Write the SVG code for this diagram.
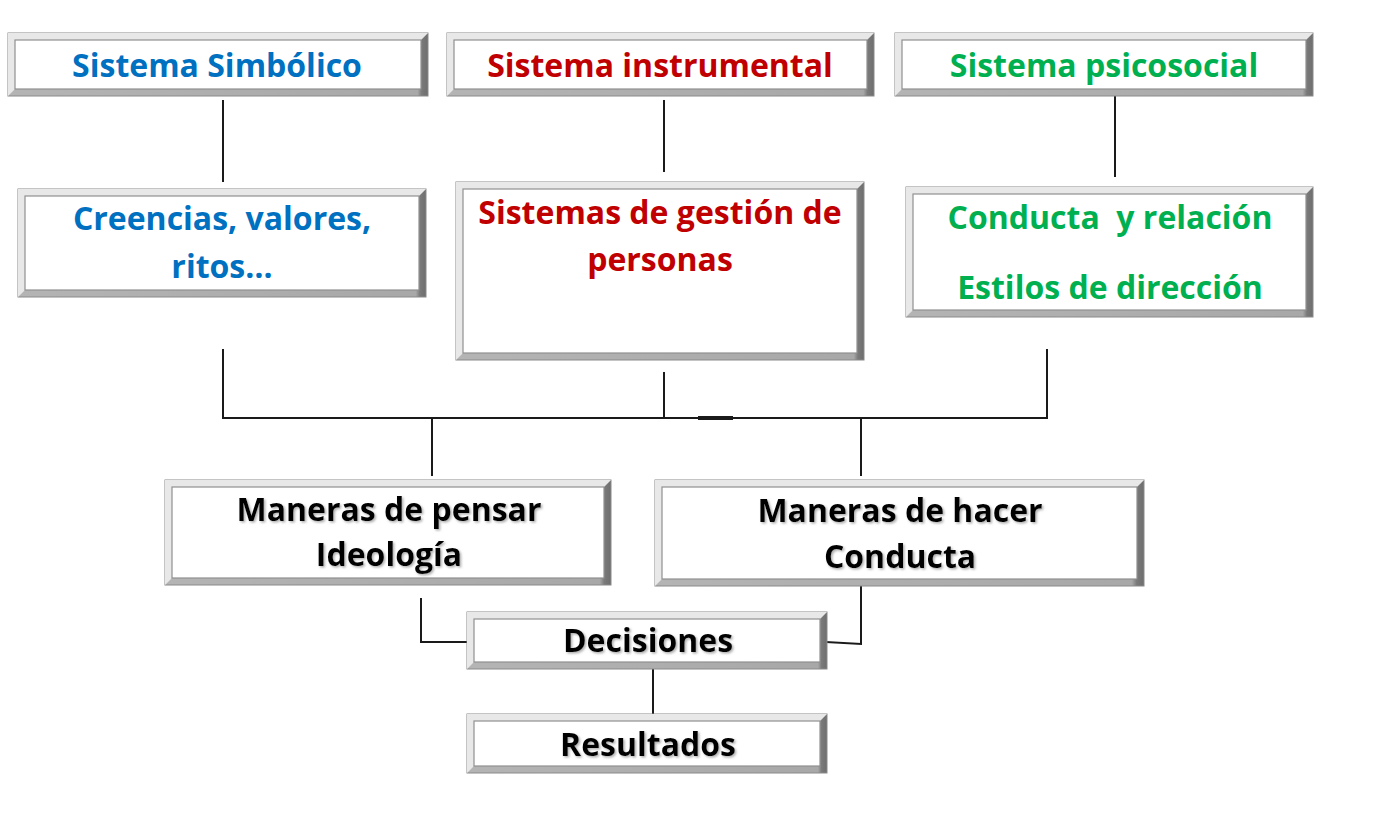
<svg xmlns="http://www.w3.org/2000/svg" width="1379" height="817" viewBox="0 0 1379 817">
<style>
.out{fill:url(#bev);stroke:#8a8a8a;stroke-width:1}
.hi{fill:#e8e8e8}
.in{fill:#ffffff;stroke:#909090;stroke-width:1.2}
text{font-family:"Open Sans","Noto Sans",sans-serif;font-weight:700;font-size:32px;text-anchor:middle}
.b{fill:#0070C0}.r{fill:#C00000}.g{fill:#00B050}.k{fill:#000000;filter:url(#sh)}
.c{fill:none;stroke:#1a1a1a;stroke-width:2}
</style>
<defs>
<linearGradient id="bev" x1="0" y1="0" x2="1" y2="0">
<stop offset="0" stop-color="#b4b4b4"/><stop offset="0.975" stop-color="#a8a8a8"/><stop offset="0.985" stop-color="#7a7a7a"/><stop offset="1" stop-color="#6e6e6e"/>
</linearGradient>
<filter id="sh" x="-10%" y="-20%" width="120%" height="150%"><feDropShadow dx="1.5" dy="1.5" stdDeviation="1" flood-color="#777" flood-opacity="0.6"/></filter>
</defs>
<rect width="1379" height="817" fill="#ffffff"/>
<g id="connectors">
<path class="c" d="M223 100V182M664 100V172M1115 95V177"/>
<path class="c" d="M223 349V418H1047V349M664 372V418M432 418V476M861 418V476"/>
<path d="M698 418H733" stroke="#1a1a1a" stroke-width="4"/>
<path class="c" d="M421 598V642H467M861 586V644L808 641M653 669V714"/>
</g>
<g id="n1"><rect class="out" x="8" y="33" width="420" height="63"/><polygon class="hi" points="8,33 428,33 421,40 15,40 15,89 8,96"/><rect class="in" x="15" y="40" width="406" height="49"/><text class="b" x="217" y="77">Sistema Simbólico</text></g>
<g id="n2"><rect class="out" x="447" y="33" width="427" height="63"/><polygon class="hi" points="447,33 874,33 867,40 454,40 454,89 447,96"/><rect class="in" x="454" y="40" width="413" height="49"/><text class="r" x="660" y="77">Sistema instrumental</text></g>
<g id="n3"><rect class="out" x="895" y="33" width="418" height="63"/><polygon class="hi" points="895,33 1313,33 1306,40 902,40 902,89 895,96"/><rect class="in" x="902" y="40" width="404" height="49"/><text class="g" x="1104" y="77">Sistema psicosocial</text></g>
<g id="n4"><rect class="out" x="18" y="189" width="408" height="108"/><polygon class="hi" points="18,189 426,189 419,196 25,196 25,290 18,297"/><rect class="in" x="25" y="196" width="394" height="94"/><text class="b" x="222" y="230">Creencias, valores,</text><text class="b" x="222" y="278">ritos…</text></g>
<g id="n5"><rect class="out" x="456" y="182" width="408" height="178"/><polygon class="hi" points="456,182 864,182 857,189 463,189 463,353 456,360"/><rect class="in" x="463" y="189" width="394" height="164"/><text class="r" x="660" y="224">Sistemas de gestión de</text><text class="r" x="660" y="271">personas</text></g>
<g id="n6"><rect class="out" x="906" y="187" width="407" height="130"/><polygon class="hi" points="906,187 1313,187 1306,194 913,194 913,310 906,317"/><rect class="in" x="913" y="194" width="393" height="116"/><text class="g" x="1110" y="229" xml:space="preserve">Conducta  y relación</text><text class="g" x="1110" y="299">Estilos de dirección</text></g>
<g id="n7"><rect class="out" x="165" y="480" width="446" height="105"/><polygon class="hi" points="165,480 611,480 604,487 172,487 172,578 165,585"/><rect class="in" x="172" y="487" width="432" height="91"/><text class="k" x="389" y="521">Maneras de pensar</text><text class="k" x="389" y="566">Ideología</text></g>
<g id="n8"><rect class="out" x="655" y="480" width="489" height="106"/><polygon class="hi" points="655,480 1144,480 1137,487 662,487 662,579 655,586"/><rect class="in" x="662" y="487" width="475" height="92"/><text class="k" x="900" y="522">Maneras de hacer</text><text class="k" x="900" y="568">Conducta</text></g>
<g id="n9"><rect class="out" x="467" y="612" width="360" height="57"/><polygon class="hi" points="467,612 827,612 820,619 474,619 474,662 467,669"/><rect class="in" x="474" y="619" width="346" height="43"/><text class="k" x="648" y="652">Decisiones</text></g>
<g id="n10"><rect class="out" x="467" y="714" width="360" height="59"/><polygon class="hi" points="467,714 827,714 820,721 474,721 474,766 467,773"/><rect class="in" x="474" y="721" width="346" height="45"/><text class="k" x="648" y="756">Resultados</text></g>
</svg>
